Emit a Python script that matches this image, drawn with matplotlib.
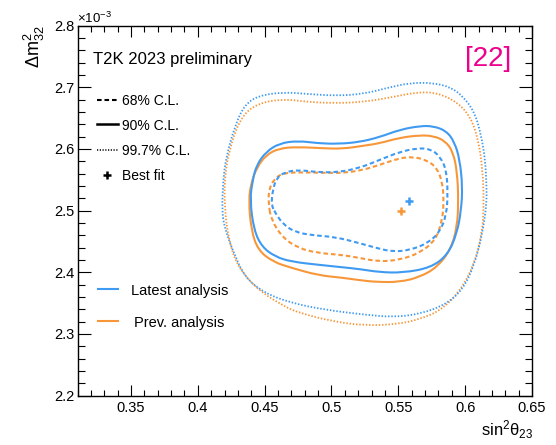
import numpy as np
import matplotlib
matplotlib.use("Agg")
import matplotlib.pyplot as plt
from matplotlib.lines import Line2D
from matplotlib.path import Path
from matplotlib.patches import PathPatch
from matplotlib.ticker import MultipleLocator, FuncFormatter

plt.rcParams["font.family"] = ["Liberation Sans", "DejaVu Sans"]
plt.rcParams["mathtext.fontset"] = "custom"
plt.rcParams["mathtext.rm"] = "Liberation Sans"
plt.rcParams["mathtext.it"] = "Liberation Sans"

# contour points: sin^2(theta23) vs dm^2_32 [1e-3 eV^2], walked round each region
latest_68_x = [0.455, 0.456, 0.459, 0.465, 0.475, 0.490, 0.505, 0.521, 0.536, 0.551, 0.564, 0.574, 0.581, 0.586,
               0.587, 0.586, 0.581, 0.572, 0.559, 0.546, 0.534, 0.521, 0.503, 0.485, 0.473, 0.464, 0.458]
latest_68_y = [2.509, 2.533, 2.553, 2.562, 2.566, 2.562, 2.562, 2.569, 2.582, 2.595, 2.601, 2.600, 2.588, 2.566,
               2.528, 2.493, 2.465, 2.447, 2.436, 2.433, 2.439, 2.447, 2.457, 2.460, 2.465, 2.477, 2.496]
latest_90_x = [0.439, 0.441, 0.444, 0.451, 0.461, 0.475, 0.490, 0.505, 0.521, 0.536, 0.551, 0.566, 0.576, 0.586,
               0.592, 0.596, 0.598, 0.597, 0.594, 0.587, 0.574, 0.553, 0.536, 0.521, 0.508, 0.490, 0.470, 0.458,
               0.448, 0.442]
latest_90_y = [2.517, 2.549, 2.574, 2.595, 2.609, 2.613, 2.609, 2.608, 2.611, 2.619, 2.631, 2.637, 2.637, 2.629,
               2.611, 2.582, 2.538, 2.501, 2.464, 2.428, 2.407, 2.399, 2.400, 2.405, 2.408, 2.412, 2.417, 2.425,
               2.441, 2.468]
latest_997_x = [0.418, 0.419, 0.421, 0.428, 0.435, 0.445, 0.464, 0.482, 0.503, 0.524, 0.542, 0.559, 0.576, 0.589,
                0.598, 0.607, 0.612, 0.615, 0.616, 0.616, 0.613, 0.607, 0.598, 0.585, 0.566, 0.546, 0.525, 0.495,
                0.470, 0.450, 0.435, 0.426, 0.420]
latest_997_y = [2.501, 2.549, 2.585, 2.639, 2.671, 2.686, 2.692, 2.689, 2.686, 2.689, 2.699, 2.707, 2.707, 2.700,
                2.686, 2.660, 2.622, 2.582, 2.541, 2.509, 2.464, 2.412, 2.371, 2.347, 2.332, 2.327, 2.331, 2.339,
                2.350, 2.366, 2.392, 2.436, 2.472]

prev_68_x = [0.453, 0.453, 0.457, 0.464, 0.478, 0.495, 0.510, 0.524, 0.536, 0.551, 0.561, 0.571, 0.579, 0.583,
             0.584, 0.583, 0.578, 0.566, 0.551, 0.536, 0.521, 0.508, 0.490, 0.475, 0.463, 0.455]
prev_68_y = [2.509, 2.533, 2.551, 2.561, 2.562, 2.561, 2.561, 2.566, 2.574, 2.585, 2.587, 2.582, 2.569, 2.545,
             2.517, 2.485, 2.452, 2.431, 2.420, 2.417, 2.423, 2.428, 2.431, 2.439, 2.457, 2.485]
prev_90_x = [0.438, 0.440, 0.444, 0.451, 0.461, 0.475, 0.493, 0.508, 0.524, 0.536, 0.551, 0.566, 0.576, 0.585,
             0.591, 0.594, 0.595, 0.594, 0.589, 0.579, 0.566, 0.551, 0.534, 0.521, 0.508, 0.490, 0.470, 0.456,
             0.445, 0.440]
prev_90_y = [2.517, 2.545, 2.569, 2.590, 2.601, 2.603, 2.601, 2.600, 2.605, 2.609, 2.618, 2.622, 2.621, 2.613,
             2.595, 2.562, 2.517, 2.473, 2.436, 2.408, 2.392, 2.384, 2.384, 2.387, 2.391, 2.395, 2.407, 2.417,
             2.436, 2.468]
prev_997_x = [0.420, 0.420, 0.423, 0.432, 0.445, 0.464, 0.482, 0.503, 0.524, 0.546, 0.564, 0.579, 0.594, 0.604,
              0.610, 0.613, 0.614, 0.613, 0.606, 0.595, 0.581, 0.566, 0.551, 0.525, 0.499, 0.476, 0.465, 0.445,
              0.430, 0.423]
prev_997_y = [2.506, 2.549, 2.595, 2.652, 2.674, 2.681, 2.676, 2.674, 2.676, 2.684, 2.692, 2.691, 2.676, 2.652,
              2.614, 2.566, 2.517, 2.464, 2.408, 2.366, 2.337, 2.324, 2.316, 2.313, 2.321, 2.334, 2.344, 2.371,
              2.408, 2.452]

latest_best = (0.558, 2.516)
prev_best = (0.552, 2.500)

BLUE = "#3f9af2"
ORANGE = "#f7973a"
PINK = "#ec008c"

DASH = (0, (2.2, 1.4))
DOT = (0, (0.8, 1.0))
styles = {"68": (DASH, 1.5), "90": ("-", 1.5), "99.7": (DOT, 1.3)}

W, H = 556, 445
fig = plt.figure(figsize=(W / 100, H / 100), dpi=100)
ax = fig.add_axes([77.5 / W, 1 - 395.5 / H, (532 - 77.5) / W, (395.5 - 25.5) / H])


def loop_path(xs, ys):
    # closed quadratic-bezier outline using the read points as control points
    pts = np.column_stack([xs, ys])
    mids = (pts + np.roll(pts, -1, axis=0)) / 2
    verts = [mids[-1]]
    codes = [Path.MOVETO]
    for p, m in zip(pts, mids):
        verts += [p, m]
        codes += [Path.CURVE3, Path.CURVE3]
    return Path(verts, codes)


sets = [
    (ORANGE, {"68": (prev_68_x, prev_68_y), "90": (prev_90_x, prev_90_y), "99.7": (prev_997_x, prev_997_y)}),
    (BLUE, {"68": (latest_68_x, latest_68_y), "90": (latest_90_x, latest_90_y),
            "99.7": (latest_997_x, latest_997_y)}),
]
for col, conts in sets:
    for cl, (xs, ys) in conts.items():
        ls, lw = styles[cl]
        ax.add_patch(PathPatch(loop_path(xs, ys), fill=False, edgecolor=col, ls=ls, lw=lw))

ax.plot(*prev_best, marker="+", ms=5.5, mew=1.8, color=ORANGE)
ax.plot(*latest_best, marker="+", ms=5.5, mew=1.8, color=BLUE)

ax.set_xlim(0.31, 0.65)
ax.set_ylim(2.2, 2.8)
ax.xaxis.set_major_locator(MultipleLocator(0.05))
ax.xaxis.set_minor_locator(MultipleLocator(0.01))
ax.yaxis.set_major_locator(MultipleLocator(0.1))
ax.yaxis.set_minor_locator(MultipleLocator(0.02))
fmt = FuncFormatter(lambda v, p: f"{v:g}")
ax.xaxis.set_major_formatter(fmt)
ax.yaxis.set_major_formatter(fmt)
ax.tick_params(which="both", direction="in", top=True, right=True, width=0.8, labelsize=10.5)
ax.tick_params(axis="x", which="major", length=8, pad=4)
ax.tick_params(axis="x", which="minor", length=4)
ax.tick_params(axis="y", which="major", length=9.5, pad=2)
ax.tick_params(axis="y", which="minor", length=4.7)
for s in ax.spines.values():
    s.set_linewidth(1.0)


def fx(px):
    return px / W


def fy(py):
    return 1 - py / H


# axis titles and exponent, ROOT-style corners
fig.text(fx(34), fy(25), r"$\mathrm{Δm^{2}_{32}}$", rotation=90, ha="center", va="top", fontsize=13)
fig.text(fx(533), fy(436), r"$\mathrm{sin^{2}θ_{23}}$", ha="right", va="baseline", fontsize=12)
fig.text(fx(77), fy(23), r"$\mathrm{×10^{-3}}$", ha="left", va="baseline", fontsize=9.5)

fig.text(fx(93), fy(64), "T2K 2023 preliminary", ha="left", va="baseline", fontsize=12)
fig.text(fx(488), fy(66.5), "[22]", ha="center", va="baseline", fontsize=20, color=PINK)

# confidence-level key
cl_rows = [("68% C.L.", DASH, 1.5, 99.5, 105), ("90% C.L.", "-", 1.8, 124, 130),
           ("99.7% C.L.", DOT, 1.1, 149.5, 155)]
for label, ls, lw, ly, ty in cl_rows:
    fig.add_artist(Line2D([fx(97), fx(118)], [fy(ly), fy(ly)], color="k", ls=ls, lw=lw))
    fig.text(fx(122), fy(ty), label, ha="left", va="baseline", fontsize=10)
fig.add_artist(Line2D([fx(107)], [fy(174.5)], marker="+", ms=5.5, mew=1.8, color="k"))
fig.text(fx(122), fy(180), "Best fit", ha="left", va="baseline", fontsize=10)

# analysis key
fig.add_artist(Line2D([fx(98), fx(118)], [fy(289), fy(289)], color=BLUE, lw=1.5))
fig.text(fx(131), fy(295), "Latest analysis", ha="left", va="baseline", fontsize=10.5)
fig.add_artist(Line2D([fx(98), fx(118)], [fy(321), fy(321)], color=ORANGE, lw=1.5))
fig.text(fx(134.5), fy(326.5), "Prev. analysis", ha="left", va="baseline", fontsize=10.5)

fig.savefig("out.png", dpi=100)
